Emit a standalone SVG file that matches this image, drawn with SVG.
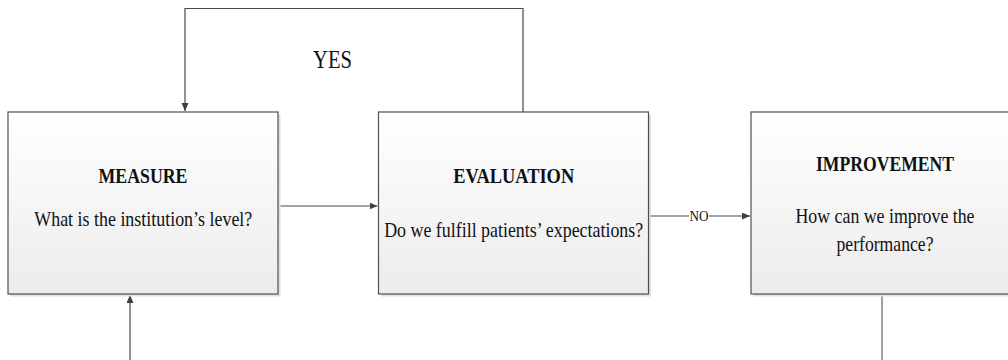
<svg xmlns="http://www.w3.org/2000/svg" width="1008" height="360" viewBox="0 0 1008 360">
  <defs>
    <linearGradient id="boxFill" x1="0" y1="0" x2="0" y2="1">
      <stop offset="0" stop-color="#ffffff"/>
      <stop offset="1" stop-color="#ececec"/>
    </linearGradient>
    <marker id="arrow" markerUnits="userSpaceOnUse" markerWidth="9" markerHeight="8" refX="8" refY="3.5" orient="auto">
      <path d="M0,0 L8,3.5 L0,7 z" fill="#404040"/>
    </marker>
    <style>
      .shadow { fill: #e0e0e0; }
      .box { fill: url(#boxFill); stroke: #505050; stroke-width: 1.2; }
      .title { font-family: "Liberation Serif", "Times New Roman", serif; font-weight: bold; font-size: 21px; fill: #111; text-anchor: middle; }
      .body { font-family: "Liberation Serif", "Times New Roman", serif; font-size: 21px; fill: #111; text-anchor: middle; }
      .label { font-family: "Liberation Serif", "Times New Roman", serif; fill: #111; text-anchor: middle; }
      .conn { fill: none; stroke: #4a4a4a; stroke-width: 1.2; }
      .conn-grey { fill: none; stroke: #a0a0a0; stroke-width: 2; }
    </style>
  </defs>
  <rect width="1008" height="360" fill="#ffffff"/>

  <g id="connectors">
    <path class="conn" d="M523,112 V8.5 H185 V111" marker-end="url(#arrow)"/>
    <path class="conn" d="M278,206 H377.5" marker-end="url(#arrow)"/>
    <path class="conn" d="M649,216 H689"/>
    <path class="conn" d="M709,216 H750" marker-end="url(#arrow)"/>
    <path class="conn" d="M130,360 V295" marker-end="url(#arrow)"/>
    <path class="conn-grey" d="M882,295 V360"/>
    <text class="label" x="332.5" y="68" font-size="26" textLength="39" lengthAdjust="spacingAndGlyphs">YES</text>
    <text class="label" x="699" y="220.5" font-size="14" textLength="19" lengthAdjust="spacingAndGlyphs">NO</text>
  </g>

  <g id="measure">
    <rect class="shadow" x="10.5" y="114.5" width="270" height="182"/>
    <rect class="box" x="8" y="112" width="270" height="182"/>
    <text class="title" x="143" y="183" textLength="89" lengthAdjust="spacingAndGlyphs">MEASURE</text>
    <text class="body" x="143.3" y="226" textLength="218" lengthAdjust="spacingAndGlyphs">What is the institution’s level?</text>
  </g>

  <g id="evaluation">
    <rect class="shadow" x="381" y="114.5" width="270" height="182"/>
    <rect class="box" x="378.5" y="112" width="270" height="182"/>
    <text class="title" x="513.7" y="183" textLength="121" lengthAdjust="spacingAndGlyphs">EVALUATION</text>
    <text class="body" x="513.7" y="236.5" textLength="259" lengthAdjust="spacingAndGlyphs">Do we fulfill patients’ expectations?</text>
  </g>

  <g id="improvement">
    <rect class="shadow" x="753.5" y="114.5" width="270" height="182"/>
    <rect class="box" x="751" y="112" width="270" height="182"/>
    <text class="title" x="885" y="170.5" textLength="138" lengthAdjust="spacingAndGlyphs">IMPROVEMENT</text>
    <text class="body" x="885" y="223" textLength="179" lengthAdjust="spacingAndGlyphs">How can we improve the</text>
    <text class="body" x="885" y="250.5" textLength="97" lengthAdjust="spacingAndGlyphs">performance?</text>
  </g>
</svg>
